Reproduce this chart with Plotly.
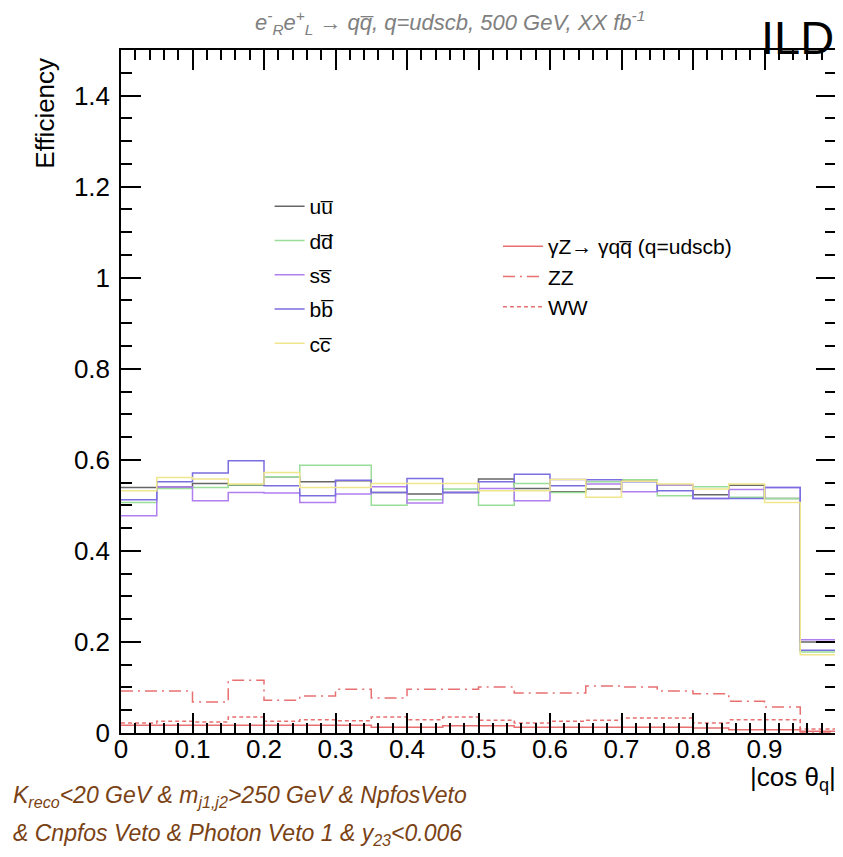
import plotly.graph_objects as go

# ---------------- data ----------------
bin_edges = [round(0.05 * i, 2) for i in range(21)]

eff_uu = [0.539, 0.540, 0.548, 0.544, 0.563, 0.552, 0.554, 0.528, 0.525, 0.528,
          0.558, 0.537, 0.530, 0.536, 0.556, 0.545, 0.523, 0.544, 0.515, 0.200]
eff_dd = [0.506, 0.537, 0.539, 0.545, 0.563, 0.588, 0.588, 0.500, 0.512, 0.536,
          0.500, 0.548, 0.528, 0.552, 0.556, 0.521, 0.541, 0.518, 0.515, 0.178]
eff_ss = [0.477, 0.540, 0.510, 0.528, 0.527, 0.506, 0.525, 0.541, 0.505, 0.528,
          0.537, 0.510, 0.557, 0.547, 0.530, 0.545, 0.515, 0.535, 0.539, 0.205]
eff_bb = [0.512, 0.552, 0.571, 0.598, 0.543, 0.521, 0.555, 0.528, 0.559, 0.528,
          0.552, 0.568, 0.543, 0.556, 0.552, 0.532, 0.515, 0.515, 0.539, 0.182]
eff_cc = [0.532, 0.561, 0.558, 0.547, 0.572, 0.539, 0.539, 0.548, 0.548, 0.548,
          0.532, 0.532, 0.557, 0.518, 0.553, 0.547, 0.536, 0.547, 0.506, 0.172]

eff_gz = [0.017, 0.017, 0.017, 0.017, 0.017, 0.017, 0.017, 0.0125, 0.0125, 0.016,
          0.016, 0.0125, 0.0125, 0.0125, 0.0125, 0.0125, 0.011, 0.007, 0.007, 0.004]
eff_zz = [0.092, 0.092, 0.068, 0.116, 0.072, 0.081, 0.096, 0.077, 0.096, 0.096,
          0.101, 0.088, 0.088, 0.103, 0.101, 0.092, 0.086, 0.070, 0.057, 0.002]
eff_ww = [0.022, 0.026, 0.024, 0.035, 0.026, 0.029, 0.027, 0.035, 0.029, 0.035,
          0.028, 0.022, 0.026, 0.028, 0.033, 0.033, 0.022, 0.029, 0.029, 0.009]

quark_names = ["uu\u0305", "dd\u0305", "ss\u0305", "bb\u0305", "cc\u0305"]
quark_series = [eff_uu, eff_dd, eff_ss, eff_bb, eff_cc]
quark_colors = ["#666666", "#99dd99", "#b07ef0", "#7a6ee0", "#f0e68c"]

bkg_names = ["\u03b3Z\u2192 \u03b3qq\u0305 (q=udscb)", "ZZ", "WW"]
bkg_series = [eff_gz, eff_zz, eff_ww]
bkg_dash = ["solid", "12px,5px,2px,5px", "4px,3px"]
bkg_color = "#e87070"

x_ticks = [0, 0.1, 0.2, 0.3, 0.4, 0.5, 0.6, 0.7, 0.8, 0.9, 1]
x_ticktext = ["0", "0.1", "0.2", "0.3", "0.4", "0.5", "0.6", "0.7", "0.8", "0.9", "1"]
y_ticks = [0, 0.2, 0.4, 0.6, 0.8, 1.0, 1.2, 1.4]
y_ticktext = ["0", "0.2", "0.4", "0.6", "0.8", "1", "1.2", "1.4"]

FONT = "Liberation Sans, Arial, Helvetica, sans-serif"

# page has an 8px body margin: figure is 835x849 placed at (8,8)
PW, PH = 717, 683          # plot area size
OX, OY = 121, 50           # plot area top-left in window pixels

def px(xw):
    return (xw - OX) / PW

def py(yw):
    return 1 - (yw - OY) / PH

fig = go.Figure()

for i, (name, vals, col) in enumerate(zip(quark_names, quark_series, quark_colors)):
    fig.add_trace(go.Scatter(
        x=bin_edges, y=vals + [vals[-1]], mode="lines", line_shape="hv",
        line=dict(color=col, width=1.5), name=name,
        legend="legend", legendgroup="q%d" % i))

for i, (name, vals, dash) in enumerate(zip(bkg_names, bkg_series, bkg_dash)):
    fig.add_trace(go.Scatter(
        x=bin_edges, y=vals + [vals[-1]], mode="lines", line_shape="hv",
        line=dict(color=bkg_color, width=1.5, dash=dash), name=name,
        legend="legend2", legendgroup="b%d" % i))

axis_common = dict(
    showline=True, linecolor="black", linewidth=1.5, mirror="allticks",
    ticks="inside", tickcolor="black", tickwidth=1.5,
    showgrid=False, zeroline=False,
    tickfont=dict(family=FONT, size=26, color="black"),
)

fig.update_xaxes(
    range=[0, 1], tickvals=x_ticks, ticktext=x_ticktext, ticklen=20,
    minor=dict(ticks="inside", dtick=0.02, ticklen=10, tickcolor="black", tickwidth=1.5, showgrid=False),
    ticklabelstandoff=-8,
    **axis_common)
fig.update_yaxes(
    range=[0, 1.5], tickvals=y_ticks, ticktext=y_ticktext, ticklen=20,
    minor=dict(ticks="inside", dtick=0.05, ticklen=11, tickcolor="black", tickwidth=1.5, showgrid=False),
    ticklabelstandoff=4,
    **axis_common)

fig.update_layout(
    width=835, height=849,
    margin=dict(l=OX - 8, r=835 - (OX - 8) - PW, t=OY - 8, b=849 - (OY - 8) - PH),
    paper_bgcolor="white", plot_bgcolor="white",
    font=dict(family=FONT, color="black"),
    showlegend=True,
    legend=dict(x=px(270), y=py(186), xanchor="left", yanchor="top",
                bgcolor="rgba(0,0,0,0)", borderwidth=0,
                font=dict(family=FONT, size=21, color="black"),
                tracegroupgap=4, itemwidth=30),
    legend2=dict(x=px(499), y=py(226), xanchor="left", yanchor="top",
                 bgcolor="rgba(0,0,0,0)", borderwidth=0,
                 font=dict(family=FONT, size=21, color="black"),
                 tracegroupgap=0, itemwidth=40),
    annotations=[
        dict(text="<i>e<sup>-</sup><sub>R</sub>e<sup>+</sup><sub>L</sub> \u2192 qq\u0305, q=udscb, 500 GeV, XX fb<sup>-1</sup></i>",
             xref="paper", yref="paper", x=px(451), y=py(22),
             xanchor="center", yanchor="middle", showarrow=False,
             font=dict(family=FONT, size=22, color="#808080")),
        dict(text="ILD", xref="paper", yref="paper", x=px(838), y=py(9),
             xanchor="right", yanchor="top", showarrow=False,
             font=dict(family=FONT, size=47, color="black")),
        dict(text="Efficiency", xref="paper", yref="paper", x=px(45), y=py(56),
             xanchor="center", yanchor="top", textangle=-90, showarrow=False,
             font=dict(family=FONT, size=26, color="black")),
        dict(text="|cos \u03b8<sub>q</sub>|", xref="paper", yref="paper", x=px(840), y=py(778),
             xanchor="right", yanchor="middle", showarrow=False,
             font=dict(family=FONT, size=26, color="black")),
        dict(text="<i>K<sub>reco</sub><20 GeV & m<sub>j1,j2</sub>>250 GeV & NpfosVeto</i>",
             xref="paper", yref="paper", x=px(11), y=py(796),
             xanchor="left", yanchor="middle", showarrow=False,
             font=dict(family=FONT, size=23, color="#7a4214")),
        dict(text="<i>& Cnpfos Veto & Photon Veto 1 & y<sub>23</sub><0.006</i>",
             xref="paper", yref="paper", x=px(11), y=py(834),
             xanchor="left", yanchor="middle", showarrow=False,
             font=dict(family=FONT, size=23, color="#7a4214")),
    ],
)

fig.write_html("out.html")
